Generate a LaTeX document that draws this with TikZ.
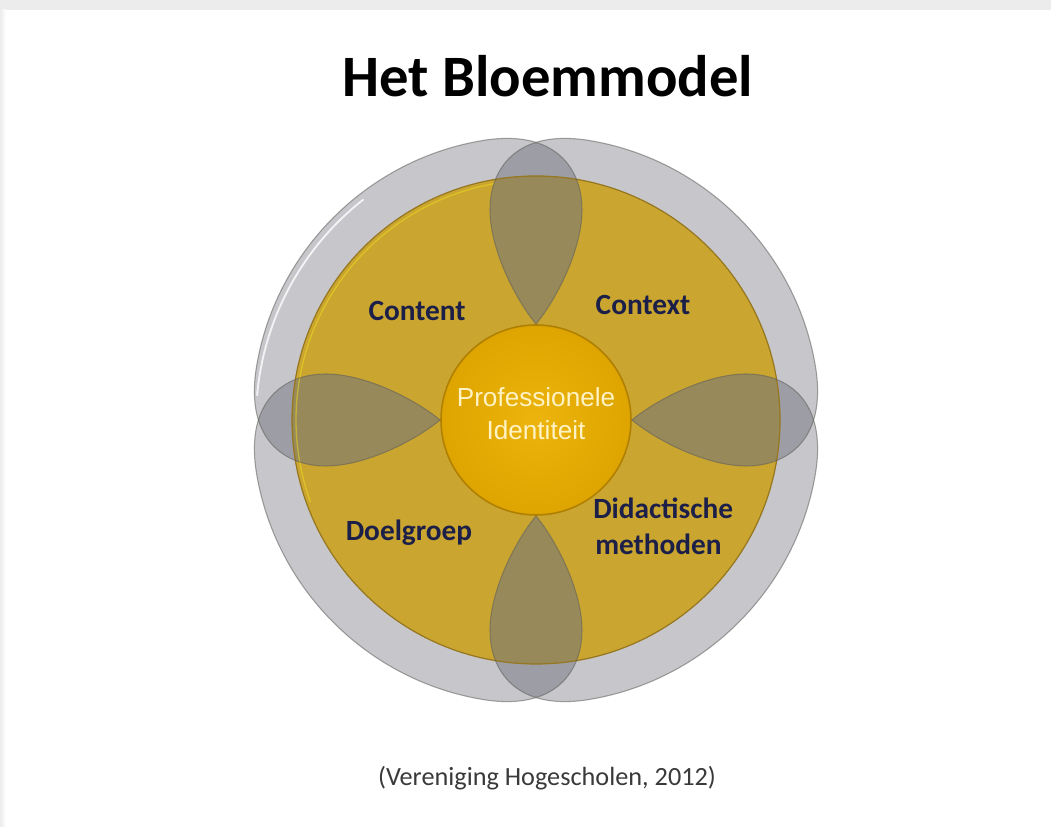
\documentclass[tikz,border=0pt]{standalone}
\usepackage{fontspec}
\setmainfont{Carlito}
\newfontfamily\corefont{Liberation Sans}
\begin{document}
\begin{tikzpicture}[x=0.75pt,y=0.75pt]
  % palette
  \definecolor{goldface}{RGB}{202,166,48}
  \definecolor{goldedge}{RGB}{150,118,30}
  \definecolor{leafgold}{RGB}{152,137,90}
  \definecolor{petalgrey}{RGB}{48,48,64}
  \definecolor{petaledge}{RGB}{95,95,90}
  \definecolor{corein}{RGB}{236,180,12}
  \definecolor{coreout}{RGB}{222,164,0}
  \definecolor{coreedge}{RGB}{176,128,0}
  \definecolor{coretext}{RGB}{255,243,196}
  \definecolor{labelnavy}{RGB}{28,32,72}
  \definecolor{citegrey}{RGB}{58,58,58}
  \definecolor{slideband}{RGB}{236,236,236}

  \tikzset{
    petalfill/.style={fill=petalgrey, fill opacity=0.27},
    petalline/.style={draw=petaledge, draw opacity=0.55, line width=0.8pt},
    label/.style={text=labelnavy, font=\fontsize{22}{26}\selectfont\bfseries, inner sep=0pt},
    coretxt/.style={text=coretext, font=\corefont\fontsize{19.6}{23}\selectfont, inner sep=0pt, anchor=base},
  }

  % one grey petal (upper-left one), drawn around the flower centre
  \def\petalpath{(0,96) .. controls (20,120) and (46,170) .. (46,210)
     .. controls (46,252) and (19,290) .. (-50,280)
     .. controls (-168,262) and (-262,168) .. (-280,50)
     .. controls (-290,-19) and (-252,-46) .. (-210,-46)
     .. controls (-170,-46) and (-120,-20) .. (-96,0) -- (0,0) -- cycle}

  \useasboundingbox (0,0) rectangle (1051,827);
  \fill[white] (0,0) rectangle (1051,827);
  \fill[slideband] (0,817) rectangle (1051,827);
  \shade[left color=slideband, right color=white] (0,0) rectangle (6,817);

  \begin{scope}[shift={(536,407)}]
    % translucent petals
    \foreach \a in {0,-90,-180,-270}
      \fill[petalfill, rotate=\a] \petalpath;

    % gold disc
    \fill[goldface] (0,0) circle (244);

    % petal overlaps seen through the disc
    \foreach \a in {0,-90,-180,-270} {
      \begin{scope}
        \clip (0,0) circle (244);
        \clip[rotate=\a] \petalpath;
        \fill[leafgold, rotate=\a-90] \petalpath;
      \end{scope}
    }
    \draw[goldedge, line width=0.9pt] (0,0) circle (244);
    \draw[yellow!70!goldface, opacity=0.5, line width=1pt] (100:240) arc (100:200:240);

    % petal outlines
    \foreach \a in {0,-90,-180,-270}
      \draw[petalline, rotate=\a] \petalpath;
    % glossy rim on the upper-left petal
    \draw[white, opacity=0.8, line width=1.4pt] (128:280) arc (128:175:280);

    % central disc
    \shade[inner color=corein, outer color=coreout] (0,0) circle (95);
    \draw[coreedge, line width=1.2pt] (0,0) circle (95);
  \end{scope}

  % texts
  \node[anchor=base, font=\fontsize{44}{50}\selectfont\bfseries, inner sep=0pt]
    (title) at (548,730) {Het Bloemmodel};
  \node[label, anchor=base] (content) at (417,506) {Content};
  \node[label, anchor=base] (context) at (643,512) {Context};
  \node[label, anchor=base] (doelgroep) at (409,286) {Doelgroep};
  \node[label, anchor=base west] (didact1) at (593,308) {Didactische};
  \node[label, anchor=base west] (didact2) at (595,272) {methoden};
  \node[coretxt] (core1) at (536,420) {Professionele};
  \node[coretxt] (core2) at (536,387) {Identiteit};
  \node[anchor=base, text=citegrey, font=\fontsize{19.7}{23}\selectfont, inner sep=0pt]
    (cite) at (547,41) {(Vereniging Hogescholen, 2012)};
\end{tikzpicture}
\end{document}
